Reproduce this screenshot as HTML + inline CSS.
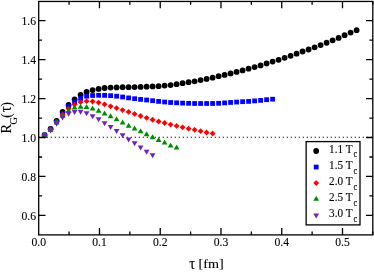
<!DOCTYPE html>
<html><head><meta charset="utf-8"><title>R_G(tau)</title>
<style>html,body{margin:0;padding:0;background:#fff;width:374px;height:272px;overflow:hidden;font-family:"Liberation Serif",serif}</style>
</head><body>
<svg width="374" height="272" viewBox="0 0 374 272" style="position:absolute;left:0;top:0;filter:blur(0.35px)">
<rect x="0" y="0" width="374" height="272" fill="#fff"/>
<line x1="38.70" y1="137.25" x2="372.80" y2="137.25" stroke="#000" stroke-width="1.15" stroke-dasharray="1.2 2.8"/>
<circle cx="44.60" cy="135.10" r="2.90" fill="#000000"/>
<circle cx="50.60" cy="129.00" r="2.90" fill="#000000"/>
<circle cx="56.60" cy="120.80" r="2.90" fill="#000000"/>
<circle cx="62.60" cy="111.80" r="2.90" fill="#000000"/>
<circle cx="68.60" cy="105.00" r="2.90" fill="#000000"/>
<circle cx="74.60" cy="99.40" r="2.90" fill="#000000"/>
<circle cx="80.60" cy="95.00" r="2.90" fill="#000000"/>
<circle cx="86.60" cy="91.90" r="2.90" fill="#000000"/>
<circle cx="92.60" cy="90.10" r="2.90" fill="#000000"/>
<circle cx="98.60" cy="88.90" r="2.90" fill="#000000"/>
<circle cx="104.60" cy="88.00" r="2.90" fill="#000000"/>
<circle cx="110.60" cy="87.60" r="2.90" fill="#000000"/>
<circle cx="116.60" cy="87.40" r="2.90" fill="#000000"/>
<circle cx="122.60" cy="87.25" r="2.90" fill="#000000"/>
<circle cx="128.60" cy="87.20" r="2.90" fill="#000000"/>
<circle cx="134.60" cy="87.10" r="2.90" fill="#000000"/>
<circle cx="140.60" cy="86.90" r="2.90" fill="#000000"/>
<circle cx="146.60" cy="86.70" r="2.90" fill="#000000"/>
<circle cx="152.60" cy="86.40" r="2.90" fill="#000000"/>
<circle cx="158.60" cy="86.15" r="2.90" fill="#000000"/>
<circle cx="164.60" cy="85.60" r="2.90" fill="#000000"/>
<circle cx="170.60" cy="85.10" r="2.90" fill="#000000"/>
<circle cx="176.60" cy="84.20" r="2.90" fill="#000000"/>
<circle cx="182.60" cy="83.20" r="2.90" fill="#000000"/>
<circle cx="188.60" cy="82.20" r="2.90" fill="#000000"/>
<circle cx="194.60" cy="81.30" r="2.90" fill="#000000"/>
<circle cx="200.60" cy="80.10" r="2.90" fill="#000000"/>
<circle cx="206.60" cy="78.90" r="2.90" fill="#000000"/>
<circle cx="212.60" cy="77.65" r="2.90" fill="#000000"/>
<circle cx="218.60" cy="76.20" r="2.90" fill="#000000"/>
<circle cx="224.60" cy="74.90" r="2.90" fill="#000000"/>
<circle cx="230.60" cy="73.40" r="2.90" fill="#000000"/>
<circle cx="236.60" cy="71.90" r="2.90" fill="#000000"/>
<circle cx="242.60" cy="70.40" r="2.90" fill="#000000"/>
<circle cx="248.60" cy="68.70" r="2.90" fill="#000000"/>
<circle cx="254.60" cy="67.10" r="2.90" fill="#000000"/>
<circle cx="260.60" cy="65.40" r="2.90" fill="#000000"/>
<circle cx="266.60" cy="63.50" r="2.90" fill="#000000"/>
<circle cx="272.60" cy="61.60" r="2.90" fill="#000000"/>
<circle cx="278.60" cy="59.80" r="2.90" fill="#000000"/>
<circle cx="284.60" cy="57.80" r="2.90" fill="#000000"/>
<circle cx="290.60" cy="55.80" r="2.90" fill="#000000"/>
<circle cx="296.60" cy="53.70" r="2.90" fill="#000000"/>
<circle cx="302.60" cy="51.50" r="2.90" fill="#000000"/>
<circle cx="308.60" cy="49.50" r="2.90" fill="#000000"/>
<circle cx="314.60" cy="47.35" r="2.90" fill="#000000"/>
<circle cx="320.60" cy="45.10" r="2.90" fill="#000000"/>
<circle cx="326.60" cy="42.75" r="2.90" fill="#000000"/>
<circle cx="332.60" cy="40.30" r="2.90" fill="#000000"/>
<circle cx="338.60" cy="37.90" r="2.90" fill="#000000"/>
<circle cx="344.60" cy="35.20" r="2.90" fill="#000000"/>
<circle cx="350.60" cy="32.60" r="2.90" fill="#000000"/>
<circle cx="356.60" cy="30.20" r="2.90" fill="#000000"/>
<rect x="42.22" y="132.72" width="4.76" height="4.76" fill="#0000ff"/>
<rect x="48.22" y="126.82" width="4.76" height="4.76" fill="#0000ff"/>
<rect x="54.22" y="119.02" width="4.76" height="4.76" fill="#0000ff"/>
<rect x="60.22" y="110.92" width="4.76" height="4.76" fill="#0000ff"/>
<rect x="66.22" y="104.12" width="4.76" height="4.76" fill="#0000ff"/>
<rect x="72.22" y="99.52" width="4.76" height="4.76" fill="#0000ff"/>
<rect x="78.22" y="96.02" width="4.76" height="4.76" fill="#0000ff"/>
<rect x="84.22" y="93.82" width="4.76" height="4.76" fill="#0000ff"/>
<rect x="90.22" y="93.12" width="4.76" height="4.76" fill="#0000ff"/>
<rect x="96.22" y="92.92" width="4.76" height="4.76" fill="#0000ff"/>
<rect x="102.22" y="93.02" width="4.76" height="4.76" fill="#0000ff"/>
<rect x="108.22" y="93.32" width="4.76" height="4.76" fill="#0000ff"/>
<rect x="114.22" y="93.82" width="4.76" height="4.76" fill="#0000ff"/>
<rect x="120.22" y="94.62" width="4.76" height="4.76" fill="#0000ff"/>
<rect x="126.22" y="95.52" width="4.76" height="4.76" fill="#0000ff"/>
<rect x="132.22" y="96.32" width="4.76" height="4.76" fill="#0000ff"/>
<rect x="138.22" y="97.02" width="4.76" height="4.76" fill="#0000ff"/>
<rect x="144.22" y="97.62" width="4.76" height="4.76" fill="#0000ff"/>
<rect x="150.22" y="98.32" width="4.76" height="4.76" fill="#0000ff"/>
<rect x="156.22" y="99.02" width="4.76" height="4.76" fill="#0000ff"/>
<rect x="162.22" y="99.62" width="4.76" height="4.76" fill="#0000ff"/>
<rect x="168.22" y="100.12" width="4.76" height="4.76" fill="#0000ff"/>
<rect x="174.22" y="100.42" width="4.76" height="4.76" fill="#0000ff"/>
<rect x="180.22" y="100.72" width="4.76" height="4.76" fill="#0000ff"/>
<rect x="186.22" y="100.92" width="4.76" height="4.76" fill="#0000ff"/>
<rect x="192.22" y="101.12" width="4.76" height="4.76" fill="#0000ff"/>
<rect x="198.22" y="101.12" width="4.76" height="4.76" fill="#0000ff"/>
<rect x="204.22" y="101.12" width="4.76" height="4.76" fill="#0000ff"/>
<rect x="210.22" y="101.12" width="4.76" height="4.76" fill="#0000ff"/>
<rect x="216.22" y="100.92" width="4.76" height="4.76" fill="#0000ff"/>
<rect x="222.22" y="100.52" width="4.76" height="4.76" fill="#0000ff"/>
<rect x="228.22" y="100.07" width="4.76" height="4.76" fill="#0000ff"/>
<rect x="234.22" y="99.67" width="4.76" height="4.76" fill="#0000ff"/>
<rect x="240.22" y="99.32" width="4.76" height="4.76" fill="#0000ff"/>
<rect x="246.22" y="99.02" width="4.76" height="4.76" fill="#0000ff"/>
<rect x="252.22" y="98.52" width="4.76" height="4.76" fill="#0000ff"/>
<rect x="258.22" y="98.02" width="4.76" height="4.76" fill="#0000ff"/>
<rect x="264.22" y="97.32" width="4.76" height="4.76" fill="#0000ff"/>
<rect x="270.22" y="96.82" width="4.76" height="4.76" fill="#0000ff"/>
<path d="M44.60 132.18L47.52 135.10L44.60 138.02L41.68 135.10Z" fill="#ff0000"/>
<path d="M50.60 126.58L53.52 129.50L50.60 132.42L47.68 129.50Z" fill="#ff0000"/>
<path d="M56.60 119.18L59.52 122.10L56.60 125.02L53.68 122.10Z" fill="#ff0000"/>
<path d="M62.60 111.88L65.52 114.80L62.60 117.72L59.68 114.80Z" fill="#ff0000"/>
<path d="M68.60 105.88L71.52 108.80L68.60 111.72L65.68 108.80Z" fill="#ff0000"/>
<path d="M74.60 101.68L77.52 104.60L74.60 107.52L71.68 104.60Z" fill="#ff0000"/>
<path d="M80.60 99.18L83.52 102.10L80.60 105.02L77.68 102.10Z" fill="#ff0000"/>
<path d="M86.60 98.28L89.52 101.20L86.60 104.12L83.68 101.20Z" fill="#ff0000"/>
<path d="M92.60 98.58L95.52 101.50L92.60 104.42L89.68 101.50Z" fill="#ff0000"/>
<path d="M98.60 99.68L101.52 102.60L98.60 105.52L95.68 102.60Z" fill="#ff0000"/>
<path d="M104.60 101.38L107.52 104.30L104.60 107.22L101.68 104.30Z" fill="#ff0000"/>
<path d="M110.60 103.38L113.52 106.30L110.60 109.22L107.68 106.30Z" fill="#ff0000"/>
<path d="M116.60 105.18L119.52 108.10L116.60 111.02L113.68 108.10Z" fill="#ff0000"/>
<path d="M122.60 107.18L125.52 110.10L122.60 113.02L119.68 110.10Z" fill="#ff0000"/>
<path d="M128.60 108.98L131.52 111.90L128.60 114.82L125.68 111.90Z" fill="#ff0000"/>
<path d="M134.60 110.98L137.52 113.90L134.60 116.82L131.68 113.90Z" fill="#ff0000"/>
<path d="M140.60 113.08L143.52 116.00L140.60 118.92L137.68 116.00Z" fill="#ff0000"/>
<path d="M146.60 114.93L149.52 117.85L146.60 120.77L143.68 117.85Z" fill="#ff0000"/>
<path d="M152.60 116.83L155.52 119.75L152.60 122.67L149.68 119.75Z" fill="#ff0000"/>
<path d="M158.60 118.58L161.52 121.50L158.60 124.42L155.68 121.50Z" fill="#ff0000"/>
<path d="M164.60 120.08L167.52 123.00L164.60 125.92L161.68 123.00Z" fill="#ff0000"/>
<path d="M170.60 121.63L173.52 124.55L170.60 127.47L167.68 124.55Z" fill="#ff0000"/>
<path d="M176.60 123.03L179.52 125.95L176.60 128.87L173.68 125.95Z" fill="#ff0000"/>
<path d="M182.60 124.43L185.52 127.35L182.60 130.27L179.68 127.35Z" fill="#ff0000"/>
<path d="M188.60 125.78L191.52 128.70L188.60 131.62L185.68 128.70Z" fill="#ff0000"/>
<path d="M194.60 126.88L197.52 129.80L194.60 132.72L191.68 129.80Z" fill="#ff0000"/>
<path d="M200.60 128.28L203.52 131.20L200.60 134.12L197.68 131.20Z" fill="#ff0000"/>
<path d="M206.60 129.58L209.52 132.50L206.60 135.42L203.68 132.50Z" fill="#ff0000"/>
<path d="M212.60 130.58L215.52 133.50L212.60 136.42L209.68 133.50Z" fill="#ff0000"/>
<path d="M44.60 131.80L47.50 136.82L41.70 136.82Z" fill="#008b00"/>
<path d="M50.60 126.45L53.50 131.47L47.70 131.47Z" fill="#008b00"/>
<path d="M56.60 119.45L59.50 124.47L53.70 124.47Z" fill="#008b00"/>
<path d="M62.60 112.65L65.50 117.67L59.70 117.67Z" fill="#008b00"/>
<path d="M68.60 107.45L71.50 112.47L65.70 112.47Z" fill="#008b00"/>
<path d="M74.60 104.55L77.50 109.57L71.70 109.57Z" fill="#008b00"/>
<path d="M80.60 103.75L83.50 108.77L77.70 108.77Z" fill="#008b00"/>
<path d="M86.60 104.05L89.50 109.07L83.70 109.07Z" fill="#008b00"/>
<path d="M92.60 105.55L95.50 110.57L89.70 110.57Z" fill="#008b00"/>
<path d="M98.60 107.75L101.50 112.77L95.70 112.77Z" fill="#008b00"/>
<path d="M104.60 110.45L107.50 115.47L101.70 115.47Z" fill="#008b00"/>
<path d="M110.60 113.35L113.50 118.37L107.70 118.37Z" fill="#008b00"/>
<path d="M116.60 116.25L119.50 121.27L113.70 121.27Z" fill="#008b00"/>
<path d="M122.60 119.45L125.50 124.47L119.70 124.47Z" fill="#008b00"/>
<path d="M128.60 122.65L131.50 127.67L125.70 127.67Z" fill="#008b00"/>
<path d="M134.60 125.55L137.50 130.57L131.70 130.57Z" fill="#008b00"/>
<path d="M140.60 128.35L143.50 133.37L137.70 133.37Z" fill="#008b00"/>
<path d="M146.60 131.25L149.50 136.27L143.70 136.27Z" fill="#008b00"/>
<path d="M152.60 134.15L155.50 139.17L149.70 139.17Z" fill="#008b00"/>
<path d="M158.60 137.05L161.50 142.07L155.70 142.07Z" fill="#008b00"/>
<path d="M164.60 139.55L167.50 144.57L161.70 144.57Z" fill="#008b00"/>
<path d="M170.60 142.45L173.50 147.47L167.70 147.47Z" fill="#008b00"/>
<path d="M176.60 144.55L179.50 149.57L173.70 149.57Z" fill="#008b00"/>
<path d="M44.60 138.55L47.50 133.53L41.70 133.53Z" fill="#7221bc"/>
<path d="M50.60 133.45L53.50 128.43L47.70 128.43Z" fill="#7221bc"/>
<path d="M56.60 126.85L59.50 121.83L53.70 121.83Z" fill="#7221bc"/>
<path d="M62.60 120.55L65.50 115.53L59.70 115.53Z" fill="#7221bc"/>
<path d="M68.60 116.65L71.50 111.63L65.70 111.63Z" fill="#7221bc"/>
<path d="M74.60 114.95L77.50 109.93L71.70 109.93Z" fill="#7221bc"/>
<path d="M80.60 114.85L83.50 109.83L77.70 109.83Z" fill="#7221bc"/>
<path d="M86.60 116.25L89.50 111.23L83.70 111.23Z" fill="#7221bc"/>
<path d="M92.60 119.30L95.50 114.28L89.70 114.28Z" fill="#7221bc"/>
<path d="M98.60 122.30L101.50 117.28L95.70 117.28Z" fill="#7221bc"/>
<path d="M104.60 126.20L107.50 121.18L101.70 121.18Z" fill="#7221bc"/>
<path d="M110.60 130.10L113.50 125.08L107.70 125.08Z" fill="#7221bc"/>
<path d="M116.60 134.00L119.50 128.98L113.70 128.98Z" fill="#7221bc"/>
<path d="M122.60 138.20L125.50 133.18L119.70 133.18Z" fill="#7221bc"/>
<path d="M128.60 142.45L131.50 137.43L125.70 137.43Z" fill="#7221bc"/>
<path d="M134.60 146.20L137.50 141.18L131.70 141.18Z" fill="#7221bc"/>
<path d="M140.60 150.45L143.50 145.43L137.70 145.43Z" fill="#7221bc"/>
<path d="M146.60 154.65L149.50 149.63L143.70 149.63Z" fill="#7221bc"/>
<path d="M152.60 158.15L155.50 153.13L149.70 153.13Z" fill="#7221bc"/>
<rect x="38.70" y="1.45" width="334.10" height="233.45" fill="none" stroke="#000" stroke-width="1.3"/>
<path d="M69.08 234.90v-3.4M69.08 1.45v3.4M99.46 234.90v-6.8M99.46 1.45v6.8M129.84 234.90v-3.4M129.84 1.45v3.4M160.22 234.90v-6.8M160.22 1.45v6.8M190.60 234.90v-3.4M190.60 1.45v3.4M220.98 234.90v-6.8M220.98 1.45v6.8M251.36 234.90v-3.4M251.36 1.45v3.4M281.74 234.90v-6.8M281.74 1.45v6.8M312.12 234.90v-3.4M312.12 1.45v3.4M342.50 234.90v-6.8M342.50 1.45v6.8M372.88 234.90v-3.4M372.88 1.45v3.4M38.70 215.40h6.8M372.80 215.40h-6.8M38.70 195.93h3.4M372.80 195.93h-3.4M38.70 176.46h6.8M372.80 176.46h-6.8M38.70 156.99h3.4M372.80 156.99h-3.4M38.70 137.52h6.8M372.80 137.52h-6.8M38.70 118.05h3.4M372.80 118.05h-3.4M38.70 98.58h6.8M372.80 98.58h-6.8M38.70 79.11h3.4M372.80 79.11h-3.4M38.70 59.64h6.8M372.80 59.64h-6.8M38.70 40.17h3.4M372.80 40.17h-3.4M38.70 20.70h6.8M372.80 20.70h-6.8" stroke="#000" stroke-width="1.3" fill="none"/>
<g style="filter:grayscale(1)">
<text transform="translate(38.70 246.2) scale(0.925 1)" font-size="12.6" font-family="Liberation Serif, serif" stroke="#000" stroke-width="0.12" text-anchor="middle">0.0</text>
<text transform="translate(99.46 246.2) scale(0.925 1)" font-size="12.6" font-family="Liberation Serif, serif" stroke="#000" stroke-width="0.12" text-anchor="middle">0.1</text>
<text transform="translate(160.22 246.2) scale(0.925 1)" font-size="12.6" font-family="Liberation Serif, serif" stroke="#000" stroke-width="0.12" text-anchor="middle">0.2</text>
<text transform="translate(220.98 246.2) scale(0.925 1)" font-size="12.6" font-family="Liberation Serif, serif" stroke="#000" stroke-width="0.12" text-anchor="middle">0.3</text>
<text transform="translate(281.74 246.2) scale(0.925 1)" font-size="12.6" font-family="Liberation Serif, serif" stroke="#000" stroke-width="0.12" text-anchor="middle">0.4</text>
<text transform="translate(342.50 246.2) scale(0.925 1)" font-size="12.6" font-family="Liberation Serif, serif" stroke="#000" stroke-width="0.12" text-anchor="middle">0.5</text>
<text transform="translate(36.0 219.55) scale(0.925 1)" font-size="12.6" font-family="Liberation Serif, serif" stroke="#000" stroke-width="0.12" text-anchor="end">0.6</text>
<text transform="translate(36.0 180.61) scale(0.925 1)" font-size="12.6" font-family="Liberation Serif, serif" stroke="#000" stroke-width="0.12" text-anchor="end">0.8</text>
<text transform="translate(36.0 141.67) scale(0.925 1)" font-size="12.6" font-family="Liberation Serif, serif" stroke="#000" stroke-width="0.12" text-anchor="end">1.0</text>
<text transform="translate(36.0 102.73) scale(0.925 1)" font-size="12.6" font-family="Liberation Serif, serif" stroke="#000" stroke-width="0.12" text-anchor="end">1.2</text>
<text transform="translate(36.0 63.79) scale(0.925 1)" font-size="12.6" font-family="Liberation Serif, serif" stroke="#000" stroke-width="0.12" text-anchor="end">1.4</text>
<text transform="translate(36.0 24.85) scale(0.925 1)" font-size="12.6" font-family="Liberation Serif, serif" stroke="#000" stroke-width="0.12" text-anchor="end">1.6</text>
<text transform="translate(189.2 268.5) scale(0.95 1)" font-size="15.7" font-family="Liberation Serif, serif" stroke="#000" stroke-width="0.12" text-anchor="start">τ</text>
<text transform="translate(223.7 268.35) scale(1.05 1)" font-size="13.5" font-family="Liberation Serif, serif" stroke="#000" stroke-width="0.12" text-anchor="end">[fm]</text>
<g transform="translate(10.9 133.9) rotate(-90)">
<text transform="translate(0.4 0) scale(1.0 1)" font-size="14.2" font-family="Liberation Serif, serif" stroke="#000" stroke-width="0.12" text-anchor="start">R</text>
<text transform="translate(9.4 5.7) scale(0.96 1)" font-size="10.7" font-family="Liberation Serif, serif" stroke="#000" stroke-width="0.12" text-anchor="start">G</text>
<text transform="translate(16.2 0) scale(0.97 1)" font-size="13.8" font-family="Liberation Serif, serif" stroke="#000" stroke-width="0.12" text-anchor="start">(</text>
<text transform="translate(21.6 0.2) scale(0.95 1)" font-size="15.7" font-family="Liberation Serif, serif" stroke="#000" stroke-width="0.12" text-anchor="start">τ</text>
<text transform="translate(27.5 0) scale(0.97 1)" font-size="13.8" font-family="Liberation Serif, serif" stroke="#000" stroke-width="0.12" text-anchor="start">)</text>
</g>
</g>
<rect x="306.15" y="141.6" width="53.85" height="83.30" fill="#fff" stroke="#000" stroke-width="1.3"/>
<circle cx="316.20" cy="151.00" r="2.90" fill="#000000"/>
<rect x="313.82" y="164.67" width="4.76" height="4.76" fill="#0000ff"/>
<path d="M316.20 180.18L319.12 183.10L316.20 186.02L313.28 183.10Z" fill="#ff0000"/>
<path d="M316.20 195.80L319.10 200.82L313.30 200.82Z" fill="#008b00"/>
<path d="M316.20 218.55L319.10 213.53L313.30 213.53Z" fill="#7221bc"/>
<g style="filter:grayscale(1)">
<text transform="translate(329.1 152.95) scale(0.89 1)" font-size="12.6" font-family="Liberation Serif, serif" stroke="#000" stroke-width="0.12">1.1 T<tspan font-size="9.58" dy="4.5" dx="1.0">c</tspan></text>
<text transform="translate(329.1 169.00) scale(0.89 1)" font-size="12.6" font-family="Liberation Serif, serif" stroke="#000" stroke-width="0.12">1.5 T<tspan font-size="9.58" dy="4.5" dx="1.0">c</tspan></text>
<text transform="translate(329.1 185.05) scale(0.89 1)" font-size="12.6" font-family="Liberation Serif, serif" stroke="#000" stroke-width="0.12">2.0 T<tspan font-size="9.58" dy="4.5" dx="1.0">c</tspan></text>
<text transform="translate(329.1 201.10) scale(0.89 1)" font-size="12.6" font-family="Liberation Serif, serif" stroke="#000" stroke-width="0.12">2.5 T<tspan font-size="9.58" dy="4.5" dx="1.0">c</tspan></text>
<text transform="translate(329.1 217.15) scale(0.89 1)" font-size="12.6" font-family="Liberation Serif, serif" stroke="#000" stroke-width="0.12">3.0 T<tspan font-size="9.58" dy="4.5" dx="1.0">c</tspan></text>
</g>
</svg>
</body></html>
